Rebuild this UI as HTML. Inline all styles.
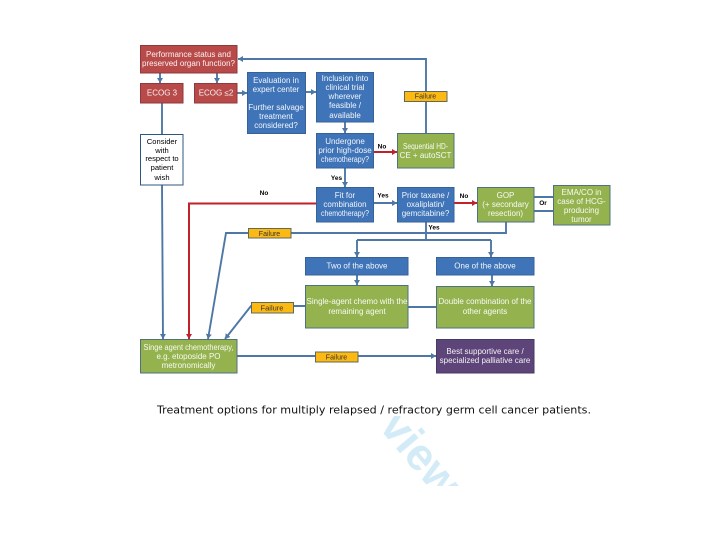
<!DOCTYPE html>
<html><head><meta charset="utf-8">
<style>
html,body{margin:0;padding:0;background:#fff}
svg{display:block}
text{font-family:"Liberation Sans",sans-serif}
.w{fill:#fff;font-size:8px;text-anchor:middle;opacity:.93}
.k{fill:#000;font-size:6.5px;font-weight:bold;text-anchor:middle}
.f{fill:#333;font-size:7px;text-anchor:middle}
.l{stroke:#4f77a6;stroke-width:1.9;fill:none}
#all{filter:blur(0.3px)}
</style></head><body>
<svg xmlns="http://www.w3.org/2000/svg" width="720" height="540" viewBox="0 0 720 540">
<defs>
<marker id="a" markerUnits="userSpaceOnUse" markerWidth="6" markerHeight="6" refX="5" refY="3" orient="auto"><path d="M0,0L5,3L0,6z" fill="#4f77a6"/></marker>
<marker id="r" markerUnits="userSpaceOnUse" markerWidth="6" markerHeight="6" refX="5" refY="3" orient="auto"><path d="M0,0L5,3L0,6z" fill="#c0222a"/></marker>
<clipPath id="wm"><rect x="360" y="416" width="110" height="70"/></clipPath>
</defs>
<rect width="720" height="540" fill="#fff"/>
<g id="all">
<g clip-path="url(#wm)"><text x="378" y="427" transform="rotate(50 378 427)" font-size="45" font-weight="bold" fill="#d3ebf7">view</text></g>

<g class="l">
<path d="M426,133V59H238" marker-end="url(#a)"/>
<path d="M160,73V83" marker-end="url(#a)"/>
<path d="M217,73V83" marker-end="url(#a)"/>
<path d="M237,93H247" marker-end="url(#a)"/>
<path d="M306,92H316" marker-end="url(#a)"/>
<path d="M345,122V133" marker-end="url(#a)"/>
<path d="M345,168V187" marker-end="url(#a)"/>
<path d="M162,103V134"/>
<path d="M162,185L163,339" marker-end="url(#a)"/>
<path d="M373,203H397" marker-end="url(#a)"/>
<path d="M534,197H553M534,211H553"/>
<path d="M506,222V233H226L208,339" marker-end="url(#a)"/>
<path d="M426,222V240"/>
<path d="M357,240H491" />
<path d="M357,240V257" marker-end="url(#a)"/>
<path d="M491,240V257" marker-end="url(#a)"/>
<path d="M357,275V285" marker-end="url(#a)"/>
<path d="M492,275V286" marker-end="url(#a)"/>
<path d="M408,307H436"/>
<path d="M305,306H251L225,339" marker-end="url(#a)"/>
<path d="M237,356H436" marker-end="url(#a)"/>
</g>
<path d="M316,203.500H189V339" fill="none" stroke="#c0222a" stroke-width="2" marker-end="url(#r)"/>
<path d="M373,152H397" fill="none" stroke="#c0222a" stroke-width="2" marker-end="url(#r)"/>
<path d="M454,203H477" fill="none" stroke="#c0222a" stroke-width="2" marker-end="url(#r)"/>

<g fill="#b84a4a" stroke="#8f3a3c" stroke-width="1">
<rect x="140.500" y="45.500" width="96.500" height="27.500"/>
<rect x="140.500" y="83.500" width="42.500" height="19.500"/>
<rect x="194.500" y="83.500" width="42.500" height="19.500"/>
</g>
<g fill="#3f74b8" stroke="#376298" stroke-width="1">
<rect x="247.500" y="72.500" width="58" height="61"/>
<rect x="316.500" y="72.500" width="57" height="49.500"/>
<rect x="316.500" y="133.500" width="57" height="34.500"/>
<rect x="316.500" y="187.500" width="57" height="34.500"/>
<rect x="397.500" y="187.500" width="56.500" height="34.500"/>
<rect x="305.500" y="257.500" width="102.500" height="17.500"/>
<rect x="436.500" y="257.500" width="97.500" height="17.500"/>
</g>
<g fill="#94b34f" stroke="#4f7280" stroke-width="1">
<rect x="397.500" y="133.500" width="56.500" height="34.500"/>
<rect x="477.500" y="187.500" width="56.500" height="34.500"/>
<rect x="553.500" y="185.500" width="56.500" height="39.500"/>
<rect x="305.500" y="285.500" width="102.500" height="42.500"/>
<rect x="436.500" y="286.500" width="97.500" height="41.500"/>
<rect x="140.500" y="339.500" width="96.500" height="33.500"/>
</g>
<rect x="436.500" y="339.500" width="97.500" height="33.500" fill="#5d4479" stroke="#453a66"/>
<rect x="140.500" y="134.500" width="42.500" height="50.500" fill="#fff" stroke="#2f5680"/>
<g fill="#fdb913" stroke="#5f6b5a" stroke-width="1">
<rect x="404.500" y="91.500" width="42.500" height="10"/>
<rect x="248.500" y="228.500" width="42.500" height="9.500"/>
<rect x="251.500" y="302.500" width="42" height="10.500"/>
<rect x="315.500" y="352" width="42.500" height="10"/>
</g>

<text class="w" x="188.500" y="57">Performance status and</text>
<text class="w" x="188.500" y="66">preserved organ function?</text>
<text class="w" x="162" y="95.500">ECOG 3</text>
<text class="w" x="216" y="95.500">ECOG ≤2</text>
<text class="w" x="276" y="83">Evaluation in</text>
<text class="w" x="276" y="92">expert center</text>
<text class="w" x="276" y="110">Further salvage</text>
<text class="w" x="276" y="119">treatment</text>
<text class="w" x="276" y="128">considered?</text>
<text class="w" x="345" y="81">Inclusion into</text>
<text class="w" x="345" y="90">clinical trial</text>
<text class="w" x="345" y="99">wherever</text>
<text class="w" x="345" y="108">feasible /</text>
<text class="w" x="345" y="118">available</text>
<text class="w" x="345" y="144">Undergone</text>
<text class="w" x="345" y="153">prior high-dose</text>
<text class="w" x="345" y="162" textLength="48" lengthAdjust="spacingAndGlyphs">chemotherapy?</text>
<text class="w" x="345" y="198">Fit for</text>
<text class="w" x="345" y="207">combination</text>
<text class="w" x="345" y="216" textLength="48" lengthAdjust="spacingAndGlyphs">chemotherapy?</text>
<text class="w" x="425.500" y="149" textLength="45" lengthAdjust="spacingAndGlyphs">Sequential HD-</text>
<text class="w" x="425.500" y="158">CE + autoSCT</text>
<text class="w" x="425.500" y="198">Prior taxane /</text>
<text class="w" x="425.500" y="207">oxaliplatin/</text>
<text class="w" x="425.500" y="216">gemcitabine?</text>
<text class="w" x="505.500" y="198">GOP</text>
<text class="w" x="505.500" y="207">(+ secondary</text>
<text class="w" x="505.500" y="216">resection)</text>
<text class="w" x="581.500" y="195">EMA/CO in</text>
<text class="w" x="581.500" y="204">case of HCG-</text>
<text class="w" x="581.500" y="213">producing</text>
<text class="w" x="581.500" y="222">tumor</text>
<text class="w" x="357" y="268.500">Two of the above</text>
<text class="w" x="485" y="268.500">One of the above</text>
<text class="w" x="357" y="304">Single-agent chemo with the</text>
<text class="w" x="357" y="314">remaining agent</text>
<text class="w" x="485" y="304">Double combination of the</text>
<text class="w" x="485" y="314">other agents</text>
<text class="w" x="188.500" y="350" textLength="90" lengthAdjust="spacingAndGlyphs">Singe agent chemotherapy,</text>
<text class="w" x="188.500" y="359">e.g. etoposide PO</text>
<text class="w" x="188.500" y="368">metronomically</text>
<text class="w" x="485" y="354">Best supportive care /</text>
<text class="w" x="485" y="363">specialized palliative care</text>
<g fill="#000" font-size="7.600" text-anchor="middle">
<text x="162" y="144">Consider</text>
<text x="162" y="153">with</text>
<text x="162" y="161">respect to</text>
<text x="162" y="170">patient</text>
<text x="162" y="180">wish</text>
</g>
<text class="f" x="425.500" y="98.500">Failure</text>
<text class="f" x="269.500" y="236">Failure</text>
<text class="f" x="272" y="310.500" style="font-size:7.500px">Failure</text>
<text class="f" x="336.500" y="359.500">Failure</text>
<text class="k" x="264" y="195">No</text>
<text class="k" x="382" y="148.500">No</text>
<text class="k" x="336.500" y="180">Yes</text>
<text class="k" x="383" y="197.500">Yes</text>
<text class="k" x="464" y="198">No</text>
<text class="k" x="543" y="205">Or</text>
<text class="k" x="434" y="229.500">Yes</text>
<text x="374" y="413.500" text-anchor="middle" font-size="10.500" style='font-family:"DejaVu Sans",sans-serif' textLength="434" lengthAdjust="spacingAndGlyphs" fill="#111">Treatment options for multiply relapsed / refractory germ cell cancer patients.</text>
</g>
</svg>
</body></html>
